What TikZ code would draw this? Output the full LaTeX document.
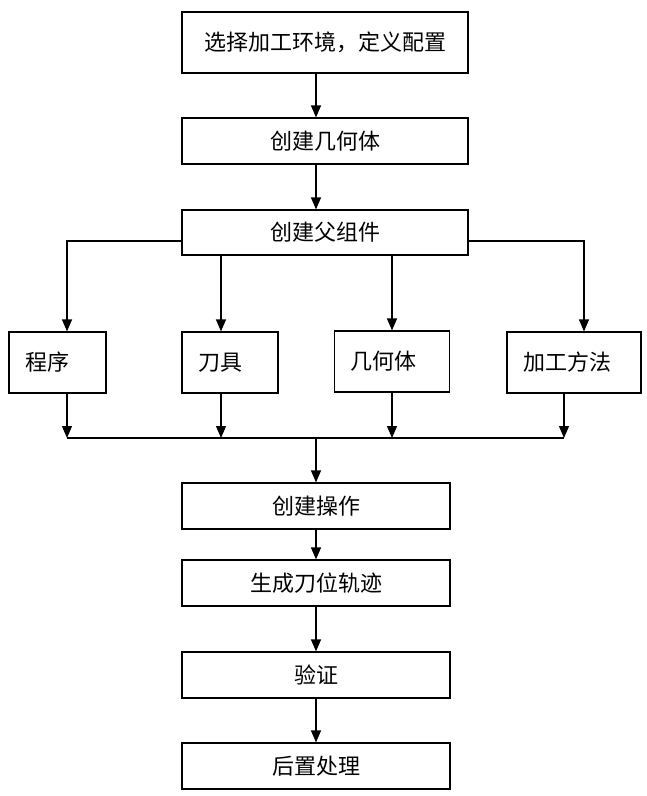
\documentclass[tikz,border=0pt]{standalone}
\usepackage{fontspec}
\setmainfont{Noto Sans CJK SC}
\usetikzlibrary{arrows.meta,calc}
\begin{document}
\begin{tikzpicture}[x=1pt,y=-1pt,
  mainbox/.style={draw, line width=1.2pt, minimum width=286pt, inner sep=0pt, font=\fontsize{22}{26}\selectfont},
  lowbox/.style={draw, line width=1.2pt, minimum width=268pt, minimum height=46pt, inner sep=0pt, font=\fontsize{22}{26}\selectfont},
  childbox/.style={draw, line width=1.2pt, minimum height=61pt, inner xsep=16pt, inner ysep=0pt, align=left, font=\fontsize{22}{26}\selectfont},
  arr/.style={line width=1.2pt, -{Triangle[length=12pt,width=10pt]}},
  ln/.style={line width=1.2pt}]
\useasboundingbox (0,0) rectangle (646,796);
\fill[white] (0,0) rectangle (646,796);
% main column
\node[mainbox, minimum height=61pt] (b1) at (325,42.5) {选择加工环境，定义配置};
\node[mainbox, minimum height=46pt] (b2) at (325,141) {创建几何体};
\node[mainbox, minimum height=45pt] (b3) at (325,232.5) {创建父组件};
% children
\node[childbox, text width=65pt] (p) at (57.5,362.5) {程序};
\node[childbox, text width=64pt] (t) at (230,362.5) {刀具};
\node[childbox, text width=83pt] (g) at (392,361.5) {几何体};
\node[childbox, text width=102pt] (m) at (574,362.5) {加工方法};
% lower column
\node[lowbox] (c1) at (316,506) {创建操作};
\node[lowbox] (c2) at (316,583) {生成刀位轨迹};
\node[lowbox] (c3) at (316,675) {验证};
\node[lowbox] (c4) at (316,766) {后置处理};
% coordinates
\coordinate (pt) at ([xshift=9.5pt]p.north);
\coordinate (tt) at ([xshift=-9pt]t.north);
\coordinate (mt) at ([xshift=10pt]m.north);
\coordinate (pb) at ([xshift=9.5pt]p.south);
\coordinate (tb) at ([xshift=-9pt]t.south);
\coordinate (gb) at (g.south);
\coordinate (mb) at ([xshift=-10pt]m.south);
\coordinate (bus) at (316,438);
% connectors
\draw[arr] (b1.south -| c1.north) -- (b2.north -| c1.north);
\draw[arr] (b2.south -| c1.north) -- (b3.north -| c1.north);
\draw[arr] ([yshift=-8.5pt]b3.west) -| (pt);
\draw[arr] (b3.south -| tt) -- (tt);
\draw[arr] (b3.south -| g.north) -- (g.north);
\draw[arr] ([yshift=-8.5pt]b3.east) -| (mt);
\draw[arr] (pb) -- (pb |- bus);
\draw[arr] (tb) -- (tb |- bus);
\draw[arr] (gb) -- (gb |- bus);
\draw[arr] (mb) -- (mb |- bus);
\draw[ln] (pb |- bus) -- (mb |- bus);
\draw[arr] (bus) -- (c1.north);
\draw[arr] (c1) -- (c2);
\draw[arr] (c2) -- (c3);
\draw[arr] (c3) -- (c4);
\end{tikzpicture}
\end{document}
